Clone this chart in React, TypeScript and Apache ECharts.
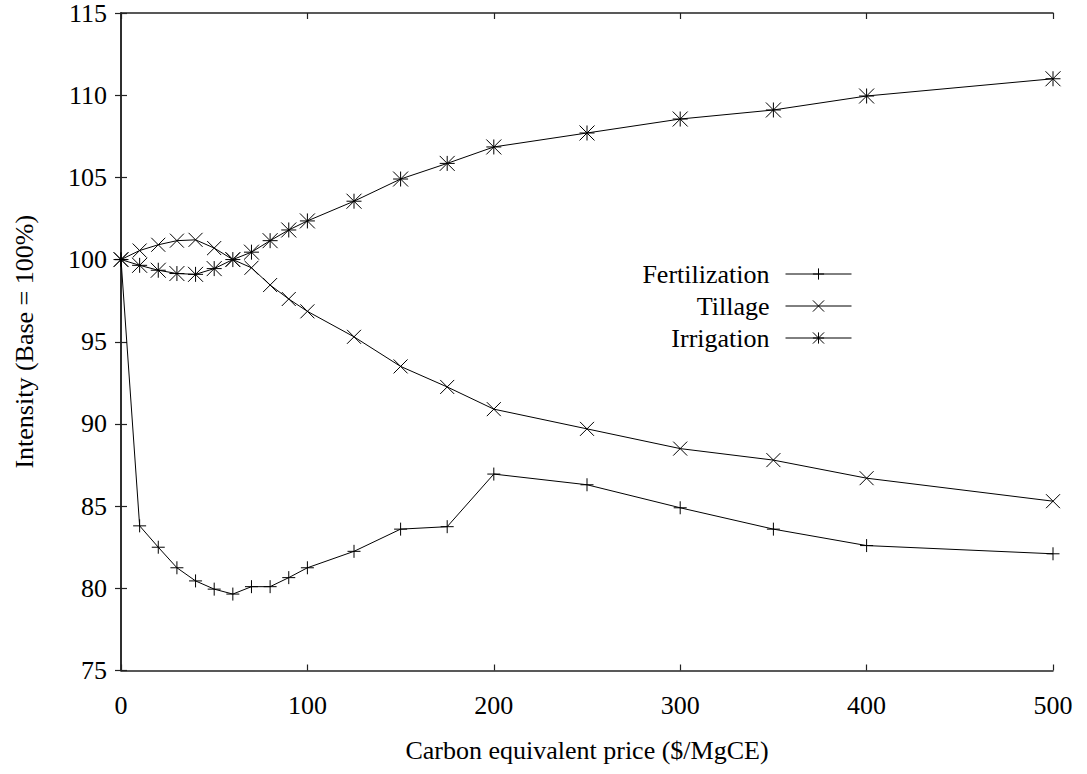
import React, { useEffect, useRef } from "react";
import * as echarts from "echarts";

const prices = [0, 10, 20, 30, 40, 50, 60, 70, 80, 90, 100, 125, 150, 175, 200, 250, 300, 350, 400, 500];
const fertilization = [100, 83.8, 82.5, 81.25, 80.45, 79.95, 79.65, 80.1, 80.1, 80.65, 81.25, 82.25, 83.6, 83.75, 86.95, 86.3, 84.9, 83.6, 82.6, 82.1];
const tillage = [100, 100.55, 100.9, 101.15, 101.2, 100.7, 100.0, 99.5, 98.45, 97.6, 96.85, 95.3, 93.5, 92.25, 90.9, 89.7, 88.5, 87.8, 86.7, 85.3];
const irrigation = [100, 99.65, 99.35, 99.15, 99.1, 99.45, 100.0, 100.45, 101.15, 101.8, 102.35, 103.55, 104.9, 105.85, 106.85, 107.7, 108.55, 109.1, 109.95, 111.0];
const seriesNames = ["Fertilization", "Tillage", "Irrigation"];
const xTicks = { min: 0, max: 500, interval: 100 };
const yTicks = { min: 75, max: 115, interval: 5 };

const PLUS = "path://M0,5L10,5M5,0L5,10";
const CROSS = "path://M0,0L10,10M10,0L0,10";
const STAR = "path://M0,5L10,5M5,0L5,10M0,0L10,10M10,0L0,10";

const FONT = "Liberation Serif, DejaVu Serif, serif";

export default function App() {
  const ref = useRef<HTMLDivElement>(null);
  useEffect(() => {
    if (!ref.current) return;
    const chart = echarts.init(ref.current, null, { renderer: "svg" });
    const pair = (ys: number[]) => prices.map((x, i) => [x, ys[i]]);
    const mkSeries = (name: string, ys: number[], symbol: string, size: number) => ({
      name,
      type: "line",
      data: pair(ys),
      symbol,
      symbolSize: size,
      showSymbol: true,
      lineStyle: { color: "#000", width: 1 },
      itemStyle: { color: "#000", borderColor: "#000", borderWidth: 1 },
      emphasis: { disabled: true },
      z: 3,
    });
    const axisCommon = {
      axisLine: { show: true, lineStyle: { color: "#222", width: 1.5 } },
      axisTick: { show: true, inside: true, length: 6, lineStyle: { color: "#222", width: 1.2 } },
      splitLine: { show: false },
    };
    const legendCommon = {
      orient: "vertical",
      align: "right",
      right: 235,
      padding: 0,
      itemWidth: 66,
      itemHeight: 14,
      lineStyle: { width: 1, color: "#000" },
      itemStyle: { color: "#000", borderColor: "#000", borderWidth: 1 },
      textStyle: { fontFamily: FONT, fontSize: 26, color: "#000", lineHeight: 26, padding: [0, 11, 0, 0] },
      selectedMode: false,
    };
    chart.setOption({
      animation: false,
      backgroundColor: "#fff",
      textStyle: { fontFamily: FONT },
      grid: { left: 121, right: 34, top: 13, bottom: 103.5, containLabel: false },
      legend: [
        { ...legendCommon, top: 261, data: [seriesNames[0]] },
        { ...legendCommon, top: 293, data: [seriesNames[1]] },
        { ...legendCommon, top: 325, data: [seriesNames[2]] },
      ],
      xAxis: [
        {
          type: "value",
          position: "bottom",
          ...xTicks,
          ...axisCommon,
          name: "Carbon equivalent price ($/MgCE)",
          nameLocation: "middle",
          nameGap: 67,
          nameTextStyle: { fontFamily: FONT, fontSize: 26, color: "#000" },
          axisLabel: { fontFamily: FONT, fontSize: 26, color: "#000", margin: 22 },
        },
        {
          type: "value",
          position: "top",
          ...xTicks,
          ...axisCommon,
          axisLabel: { show: false },
        },
      ],
      yAxis: [
        {
          type: "value",
          position: "left",
          ...yTicks,
          ...axisCommon,
          name: "Intensity (Base = 100%)",
          nameLocation: "middle",
          nameGap: 84,
          nameTextStyle: { fontFamily: FONT, fontSize: 26, color: "#000" },
          axisLabel: { fontFamily: FONT, fontSize: 26, color: "#000", margin: 14 },
        },
        {
          type: "value",
          position: "right",
          ...yTicks,
          ...axisCommon,
          axisLabel: { show: false },
        },
      ],
      series: [
        mkSeries(seriesNames[0], fertilization, PLUS, 13),
        mkSeries(seriesNames[1], tillage, CROSS, 14),
        mkSeries(seriesNames[2], irrigation, STAR, 15),
      ],
    });
    return () => chart.dispose();
  }, []);
  return (
    <div
      ref={ref}
      style={{ position: "fixed", left: 0, top: 0, width: 1087, height: 774, background: "#fff" }}
    />
  );
}
